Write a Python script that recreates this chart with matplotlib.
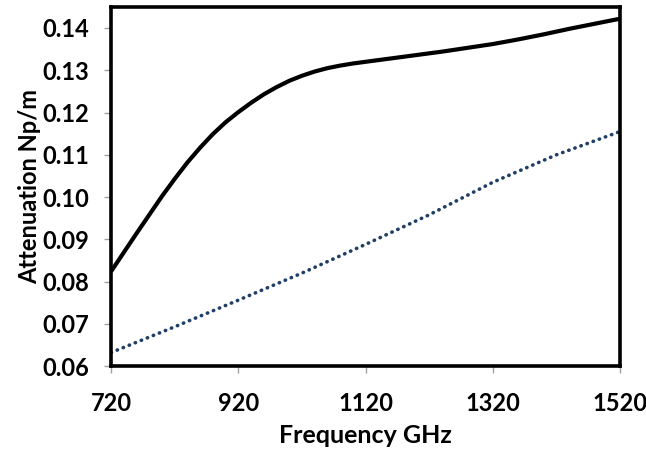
import matplotlib.pyplot as plt

# values
freq_solid = [720, 740, 760, 780, 800, 820, 840, 860, 880, 900, 920, 940,
              960, 980, 1000, 1020, 1040, 1060, 1080, 1100, 1120, 1160,
              1200, 1240, 1280, 1320, 1360, 1400, 1440, 1480, 1520]
atten_solid = [0.0824, 0.0869, 0.0914, 0.0958, 0.1002, 0.1043, 0.1082,
               0.1117, 0.1149, 0.1177, 0.1201, 0.1223, 0.1243, 0.1260,
               0.1275, 0.1287, 0.1297, 0.1305, 0.1311, 0.1316, 0.1320,
               0.1328, 0.1336, 0.1344, 0.1353, 0.1362, 0.1373, 0.1385,
               0.1398, 0.1410, 0.1422]

freq_dotted = [720, 820, 920, 1020, 1120, 1220, 1320, 1420, 1520]
atten_dotted = [0.0632, 0.0693, 0.0756, 0.0820, 0.0888, 0.0958, 0.1035,
                0.1100, 0.1155]

x_ticks = [720, 920, 1120, 1320, 1520]
y_ticks = [0.06, 0.07, 0.08, 0.09, 0.10, 0.11, 0.12, 0.13, 0.14]

plt.rcParams['font.family'] = ['Lato', 'DejaVu Sans']
plt.rcParams['font.weight'] = 'bold'

fig = plt.figure(figsize=(6.46, 4.57), dpi=100)
ax = fig.add_axes([0.172, 0.199, 0.788, 0.786])

ax.plot(freq_solid, atten_solid, color='black', linewidth=3.0,
        solid_capstyle='butt', solid_joinstyle='round')
ax.plot(freq_dotted, atten_dotted, color='#1f3f66', linewidth=2.6,
        linestyle=(0, (0.1, 1.7)), dash_capstyle='round')

ax.set_xlim(720, 1520)
ax.set_ylim(0.06, 0.145)
ax.set_xticks(x_ticks)
ax.set_yticks(y_ticks)
ax.set_yticklabels(['%.2f' % v for v in y_ticks])

for side in ['left', 'right', 'top', 'bottom']:
    ax.spines[side].set_linewidth(2.6)
    ax.spines[side].set_color('black')

ax.tick_params(axis='both', direction='out', length=5, width=1,
               color='#a0a0a0', labelsize=17)
ax.tick_params(axis='x', pad=14)
ax.tick_params(axis='y', pad=11)

ax.set_xlabel('Frequency GHz', fontsize=18, fontweight='bold', labelpad=6)
ax.set_ylabel('Attenuation Np/m', fontsize=17, fontweight='bold', labelpad=1)

fig.savefig('out.png', dpi=100)
plt.close(fig)
